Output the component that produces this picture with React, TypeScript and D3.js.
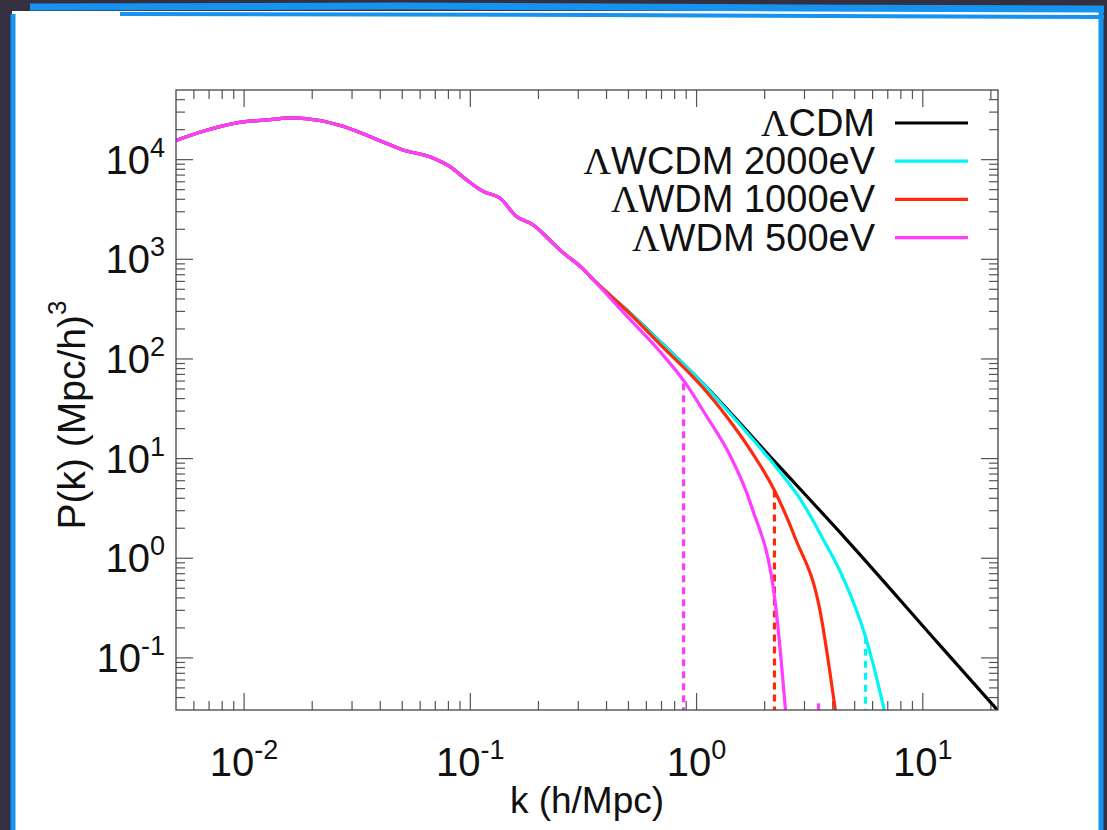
import React from 'react';
import * as d3 from 'd3';

// Low-k part shared by all four spectra (k in h/Mpc, P in (Mpc/h)^3)
const sharedK = [0.005, 0.0066, 0.0093, 0.013, 0.0164, 0.0216, 0.0273, 0.0359, 0.05, 0.0683, 0.081, 0.096, 0.114, 0.135, 0.16, 0.189, 0.224, 0.248, 0.315, 0.347];
const sharedP = [1.56e4, 1.93e4, 2.34e4, 2.52e4, 2.62e4, 2.47e4, 2.16e4, 1.71e4, 1.26e4, 1.04e4, 8.55e3, 6.3e3, 4.8e3, 4.12e3, 2.69e3, 2.22e3, 1.57e3, 1.25e3, 800, 635];

// Tails where the models split
const cdmK = [0.491, 0.686, 1.063, 2.234, 4.6, 11.7, 21.5];
const cdmP = [310, 151, 57.1, 9.16, 1.54, 0.14, 0.0295];
const wcdm2000K = [0.491, 0.686, 1.063, 1.549, 2.234, 2.94, 3.6, 4.42, 5.58, 6.06, 6.77];
const wcdm2000P = [310, 151, 57, 22.1, 8.35, 3.62, 1.6, 0.653, 0.163, 0.0832, 0.0293];
const wdm1000K = [0.491, 0.686, 1.063, 1.357, 1.768, 2.21, 2.738, 3.5, 4.11];
const wdm1000P = [305, 142, 52, 26.5, 11.3, 4.79, 1.57, 0.311, 0.0293];
const wdm500K = [0.491, 0.686, 0.894, 1.107, 1.385, 1.75, 2.234, 2.474];
const wdm500P = [270, 120, 57.1, 26.6, 11.5, 3.3, 0.341, 0.0293];

const seriesNames = ['CDM', 'WCDM 2000eV', 'WDM 1000eV', 'WDM 500eV'];
const seriesColors = ['#000000', '#00f5f5', '#ff2a0a', '#ff3cff'];

// vertical dashed markers: k position, top P value, colour index
const markerK = [0.876, 2.21, 5.58, 3.46];
const markerTop = [57, 4.79, 0.163, 0.035];
const markerColor = [3, 2, 1, 3];

const xMajor = [0.01, 0.1, 1, 10];
const xMajorExp = ['-2', '-1', '0', '1'];
const yMajor = [0.1, 1, 10, 100, 1000, 10000];
const yMajorExp = ['-1', '0', '1', '2', '3', '4'];

const W = 1107;
const H = 830;
const L = 176, R = 998, T = 90, B = 710;
const FONT = '"Liberation Sans", Arial, Helvetica, sans-serif';
const SERIF = '"Liberation Serif", "Times New Roman", serif';
const BLUE = '#1593ee';

const App = () => {
  const x = d3.scaleLog().domain([0.005, 21.5]).range([L, R]);
  const y = d3.scaleLog().domain([0.03, 5e4]).range([B, T]);

  const build = (k: number[], p: number[]) =>
    sharedK.map((v, i) => [v, sharedP[i]]).concat(k.map((v, i) => [v, p[i]]));
  const series = [
    build(cdmK, cdmP),
    build(wcdm2000K, wcdm2000P),
    build(wdm1000K, wdm1000P),
    build(wdm500K, wdm500P),
  ];

  const line = d3
    .line<number[]>()
    .x((d) => x(d[0]))
    .y((d) => y(d[1]))
    .curve(d3.curveMonotoneX);

  // minor ticks
  const xMinor: number[] = [];
  [0.001, 0.01, 0.1, 1, 10].forEach((dec) => {
    for (let m = 2; m <= 9; m++) {
      const v = dec * m;
      if (v > 0.005 && v < 21.5) xMinor.push(v);
    }
  });
  const yMinor: number[] = [];
  [0.01, 0.1, 1, 10, 100, 1000, 10000].forEach((dec) => {
    for (let m = 2; m <= 9; m++) {
      const v = dec * m;
      if (v > 0.03 && v < 5e4) yMinor.push(v);
    }
  });

  const tickColor = '#555';
  const majorLen = 17;
  const minorLen = 9;

  return (
    <div style={{ position: 'absolute', left: 0, top: 0 }}>
      <svg width={W} height={H} style={{ display: 'block' }}>
        {/* slide frame */}
        <rect x={0} y={0} width={W} height={H} fill="#34303f" />
        <rect x={12} y={11} width={1090} height={H} fill="#ffffff" />
        <path d="M30,7 L400,6 L800,8 L1104,9" stroke={BLUE} strokeWidth={7} fill="none" />
        <path d="M120,14 L600,15 L1104,17" stroke={BLUE} strokeWidth={4} fill="none" />
        <line x1={13} y1={14} x2={13} y2={H} stroke={BLUE} strokeWidth={5} />
        <line x1={1101} y1={10} x2={1101} y2={H} stroke={BLUE} strokeWidth={5} />

        <defs>
          <clipPath id="plotClip">
            <rect x={L} y={T} width={R - L} height={B - T} />
          </clipPath>
        </defs>

        {/* ticks */}
        <g stroke={tickColor} strokeWidth={1.2}>
          {xMajor.map((v) => (
            <g key={'xM' + v}>
              <line x1={x(v)} x2={x(v)} y1={B} y2={B - majorLen} />
              <line x1={x(v)} x2={x(v)} y1={T} y2={T + majorLen} />
            </g>
          ))}
          {xMinor.map((v) => (
            <g key={'xm' + v}>
              <line x1={x(v)} x2={x(v)} y1={B} y2={B - minorLen} />
              <line x1={x(v)} x2={x(v)} y1={T} y2={T + minorLen} />
            </g>
          ))}
          {yMajor.map((v) => (
            <g key={'yM' + v}>
              <line x1={L} x2={L + majorLen} y1={y(v)} y2={y(v)} />
              <line x1={R} x2={R - majorLen} y1={y(v)} y2={y(v)} />
            </g>
          ))}
          {yMinor.map((v) => (
            <g key={'ym' + v}>
              <line x1={L} x2={L + minorLen} y1={y(v)} y2={y(v)} />
              <line x1={R} x2={R - minorLen} y1={y(v)} y2={y(v)} />
            </g>
          ))}
        </g>

        {/* curves */}
        <g clipPath="url(#plotClip)" fill="none">
          {markerK.map((k, i) => (
            <line
              key={'mk' + i}
              x1={x(k)}
              x2={x(k)}
              y1={y(markerTop[i])}
              y2={B}
              stroke={seriesColors[markerColor[i]]}
              strokeWidth={3.2}
              strokeDasharray="7,5"
            />
          ))}
          {series.map((s, i) => (
            <path key={'s' + i} d={line(s) || ''} stroke={seriesColors[i]} strokeWidth={3.2} strokeLinejoin="round" />
          ))}
        </g>

        {/* frame */}
        <rect x={L} y={T} width={R - L} height={B - T} fill="none" stroke="#444" strokeWidth={1.3} />

        {/* tick labels */}
        <g fontFamily={FONT} fill="#111" fontSize={40}>
          {xMajor.map((v, i) => (
            <text key={'xl' + v} x={x(v)} y={776} textAnchor="middle">
              10<tspan fontSize={27} dy={-17}>{xMajorExp[i]}</tspan>
            </text>
          ))}
          {yMajor.map((v, i) => (
            <text key={'yl' + v} x={165} y={y(v) + 14} textAnchor="end">
              10<tspan fontSize={27} dy={-17}>{yMajorExp[i]}</tspan>
            </text>
          ))}
        </g>

        {/* axis titles */}
        <text x={(L + R) / 2} y={813} textAnchor="middle" fontFamily={FONT} fontSize={37} fill="#111">
          k (h/Mpc)
        </text>
        <text
          transform={`translate(85, ${(T + B) / 2 + 15}) rotate(-90)`}
          textAnchor="middle"
          fontFamily={FONT}
          fontSize={39}
          fill="#111"
        >
          P(k) (Mpc/h)<tspan fontSize={26} dy={-19}>3</tspan>
        </text>

        {/* legend */}
        <g fontFamily={FONT} fontSize={38} fill="#111">
          {seriesNames.map((name, i) => {
            const cy = 123 + i * 38.2;
            return (
              <g key={'lg' + i}>
                <text x={875} y={cy + 13} textAnchor="end">
                  <tspan fontFamily={SERIF}>Λ</tspan>
                  {name}
                </text>
                <line x1={895} x2={968} y1={cy} y2={cy} stroke={seriesColors[i]} strokeWidth={3.2} />
              </g>
            );
          })}
        </g>
      </svg>
    </div>
  );
};

export default App;
